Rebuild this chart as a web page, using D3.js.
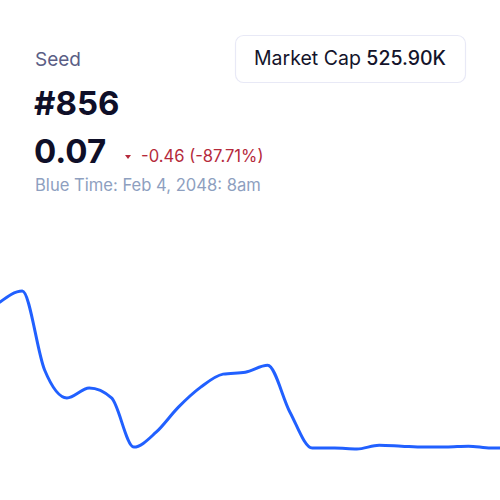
<!DOCTYPE html>
<html><head><meta charset="utf-8">
<script src="https://cdn.jsdelivr.net/npm/d3@7"></script>
<style>
html,body{margin:0;padding:0;background:#fff;}
svg{display:block;font-family:Inter, "Noto Sans", sans-serif;}
</style></head>
<body>
<svg id="chart" width="500" height="500"></svg>
<script>
const title = "Seed";
const rankLabel = "#856";
const priceLabel = "0.07";
const changeLabel = "-0.46 (-87.71%)";
const timeLabel = "Blue Time: Feb 4, 2048: 8am";
const capLabel = "Market Cap";
const capValue = "525.90K";
const steps = d3.range(24);
const prices = [0.53, 0.565, 0.316, 0.228, 0.259, 0.228, 0.073, 0.120, 0.199, 0.262, 0.303, 0.309, 0.331, 0.183, 0.070, 0.070, 0.067, 0.079, 0.076, 0.073, 0.073, 0.076, 0.070, 0.070];

const svg = d3.select("#chart");
svg.append("rect").attr("width",500).attr("height",500).attr("fill","#ffffff");

svg.append("text").attr("x",35).attr("y",66).attr("font-size",19).attr("fill","#5b5e85").text(title);
svg.append("text").attr("x",34).attr("y",115).attr("font-size",33).attr("font-weight",700).attr("fill","#0f0f28").text(rankLabel);
svg.append("text").attr("x",34).attr("y",163).attr("font-size",33).attr("font-weight",700).attr("fill","#0f0f28").text(priceLabel);
svg.append("path").attr("d","M125,155 L131,155 L128,159 Z").attr("fill","#b52a3c");
svg.append("text").attr("x",141).attr("y",162).attr("font-size",16.6).attr("fill","#b52a3c").text(changeLabel);
svg.append("text").attr("x",35).attr("y",191).attr("font-size",16.6).attr("fill","#8e9fbf").text(timeLabel);

svg.append("rect").attr("x",235.5).attr("y",35.5).attr("width",230).attr("height",47).attr("rx",8)
  .attr("fill","#ffffff").attr("stroke","#e8e9f6").attr("stroke-width",1.2);
const cap = svg.append("text").attr("x",350).attr("y",65).attr("text-anchor","middle").attr("font-size",19.5).attr("fill","#14142b");
cap.append("tspan").text(capLabel + " ");
cap.append("tspan").attr("font-weight",500).text(capValue);

const x = d3.scaleLinear().domain(d3.extent(steps)).range([0,513]);
const y = d3.scaleLinear().domain(d3.extent(prices)).range([449,291]);
const line = d3.line().x((d,i)=>x(steps[i])).y(d=>y(d)).curve(d3.curveMonotoneX);
svg.append("path").datum(prices).attr("d",line).attr("fill","none")
  .attr("stroke","#2160ff").attr("stroke-width",3).attr("stroke-linejoin","round").attr("stroke-linecap","round");
</script>
</body></html>
